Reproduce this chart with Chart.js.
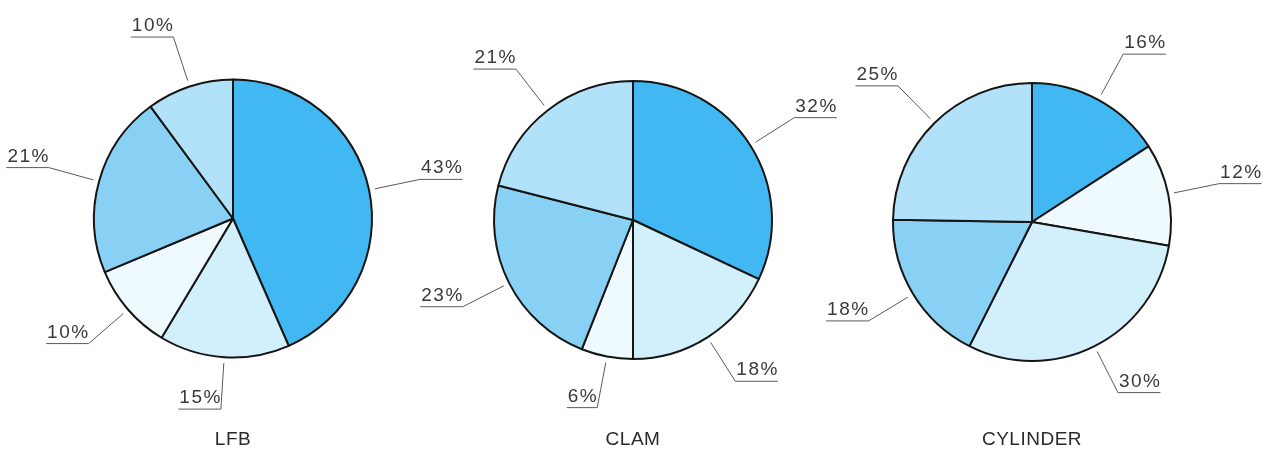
<!DOCTYPE html>
<html>
<head>
<meta charset="utf-8">
<script src="https://cdn.jsdelivr.net/npm/chart.js@4"></script>
<style>
  html, body { margin: 0; padding: 0; background: #ffffff; }
  #wrap { position: relative; width: 1276px; height: 450px; overflow: hidden; }
  .box { position: absolute; top: 0; width: 520px; height: 450px; }
</style>
</head>
<body>
<div id="wrap">
  <div class="box" id="box0"><canvas id="pie0" width="520" height="450"></canvas></div>
  <div class="box" id="box1"><canvas id="pie1" width="520" height="450"></canvas></div>
  <div class="box" id="box2"><canvas id="pie2" width="520" height="450"></canvas></div>
</div>
<script>
// data - slices clockwise from 12 o'clock
const chartTitles = ['LFB', 'CLAM', 'CYLINDER'];
const lfbValues = [43, 15, 10, 21, 10];
const clamValues = [32, 18, 6, 23, 21];
const cylinderValues = [16, 12, 30, 18, 25];
const allValues = [lfbValues, clamValues, cylinderValues];

// shades of blue
const DARK = '#41b8f1';
const MED = '#88d1f5';
const LIGHT = '#b1e2f9';
const VLIGHT = '#d2effc';
const PALE = '#effaff';

const sliceColors = [
    [DARK, VLIGHT, PALE, MED, LIGHT],
    [DARK, VLIGHT, PALE, MED, LIGHT],
    [DARK, PALE, VLIGHT, MED, LIGHT]
];

// where each pie sits on the page (center x, center y)
const centers = [[232.5, 218.5], [632.5, 220], [1031.5, 222]];
const R = 139;
const BOX_W = 520;

const FONT = '"Liberation Sans", Arial, Helvetica, sans-serif';

//leader lines + underlined percent labels + title under the pie
const labelPlugin = {
    id: 'leaderLabels',
    afterDatasetsDraw(chart, args, opts) {
        const ctx = chart.ctx;
        const meta = chart.getDatasetMeta(0);
        const values = chart.data.datasets[0].data;
        ctx.save();
        ctx.font = '19px ' + FONT;
        ctx.letterSpacing = '1.5px';
        meta.data.forEach((arc, i) => {
            const p = arc.getProps(['x', 'y', 'startAngle', 'endAngle', 'outerRadius'], true);
            const mid = (p.startAngle + p.endAngle) / 2;
            const c = Math.cos(mid), s = Math.sin(mid);
            const x0 = p.x + c * (p.outerRadius + 6);
            const y0 = p.y + s * (p.outerRadius + 6);
            const x1 = p.x + c * (p.outerRadius + 52);
            const y1 = p.y + s * (p.outerRadius + 52);
            const txt = values[i] + '%';
            const w = ctx.measureText(txt).width;
            const right = c >= 0;
            const x2 = right ? x1 + w : x1 - w;

            ctx.strokeStyle = '#5a5a5a';
            ctx.lineWidth = 1;
            ctx.beginPath();
            ctx.moveTo(x0, y0);
            ctx.lineTo(x1, y1);
            ctx.lineTo(x2, y1);
            ctx.stroke();

            ctx.fillStyle = '#3a3a3a';
            ctx.textBaseline = 'alphabetic';
            ctx.textAlign = 'left';
            ctx.fillText(txt, right ? x1 + 1 : x2 + 1, y1 - 6);
        });

        // chart name
        ctx.font = '19px ' + FONT;
        ctx.letterSpacing = '0.5px';
        ctx.textAlign = 'center';
        ctx.fillStyle = '#2a2a2a';
        const a = meta.data[0];
        ctx.fillText(opts.title, a.x, 445);
        ctx.restore();
    }
};

allValues.forEach((vals, k) => {
    const cx = centers[k][0], cy = centers[k][1];
    const box = document.getElementById('box' + k);
    box.style.left = (cx - BOX_W / 2) + 'px';

    const config = {
        type: 'pie',
        data: {
            labels: vals.map((v, i) => 'slice ' + (i + 1)),
            datasets: [{
                data: vals,
                backgroundColor: sliceColors[k],
                borderColor: '#151515',
                borderWidth: 2,
                radius: R
            }]
        },
        options: {
            responsive: false,
            animation: false,
            events: [],
            layout: {
                padding: {
                    left: BOX_W / 2 - R,
                    right: BOX_W / 2 - R,
                    top: cy - R,
                    bottom: 450 - cy - R
                }
            },
            plugins: {
                legend: { display: false },
                tooltip: { enabled: false },
                leaderLabels: { title: chartTitles[k] }
            }
        },
        plugins: [labelPlugin]
    };

    let ctx = document.getElementById('pie' + k).getContext('2d');
    var myChart = new Chart(ctx, config);
});
</script>
</body>
</html>
